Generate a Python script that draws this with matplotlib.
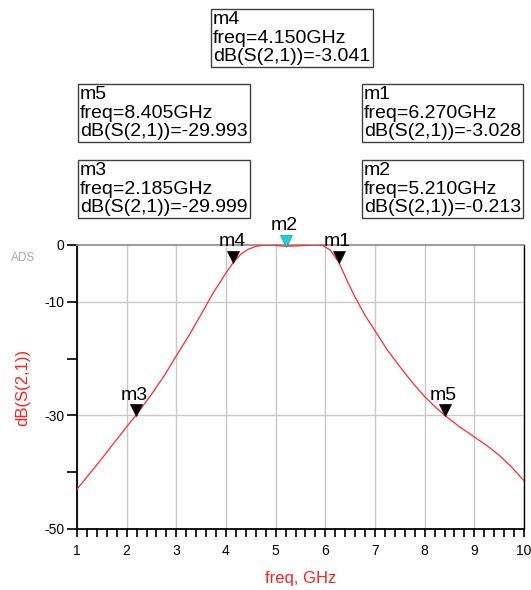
import matplotlib
matplotlib.use("Agg")
import matplotlib.pyplot as plt
import matplotlib.transforms as mtransforms
from matplotlib.ticker import MultipleLocator, FixedLocator

plt.rcParams['font.family'] = ['Liberation Sans', 'DejaVu Sans']

# ---- data ----
freq = [1.0, 1.25, 1.5, 1.75, 2.0, 2.185, 2.5, 2.75, 3.0, 3.25, 3.5, 3.75,
        3.9, 4.0, 4.15, 4.3, 4.45, 4.6, 4.75, 4.9, 5.05, 5.21, 5.4, 5.6, 5.8,
        5.95, 6.1, 6.27, 6.45, 6.6, 6.8, 7.0, 7.25, 7.5, 7.75, 8.0, 8.2,
        8.405, 8.7, 9.0, 9.25, 9.5, 9.75, 10.0]
s21_db = [-43.0, -40.3, -37.6, -34.8, -32.0, -30.0, -26.3, -23.1, -19.5, -16.0,
          -12.2, -8.3, -6.3, -4.9, -3.04, -1.6, -0.75, -0.25, -0.03, -0.02, -0.12,
          -0.213, -0.18, -0.08, -0.01, -0.1, -0.9, -3.03, -6.5, -9.2, -12.4,
          -15.1, -18.5, -21.4, -24.2, -26.7, -28.4, -29.99, -32.0, -33.8,
          -35.3, -37.0, -39.1, -41.5]

marker_names = ['m1', 'm2', 'm3', 'm4', 'm5']
marker_freq = [6.270, 5.210, 2.185, 4.150, 8.405]
marker_db = [-3.028, -0.213, -29.999, -3.041, -29.993]
marker_colors = ['black', '#20d0d8', 'black', 'black', 'black']

x_ticks = [1, 2, 3, 4, 5, 6, 7, 8, 9, 10]
y_ticks = [0, -10, -20, -30, -40, -50]
y_labels = ['0', '-10', '', '-30', '', '-50']

W, H = 531, 590
fig = plt.figure(figsize=(W / 100, H / 100), dpi=100)
ax = fig.add_axes([77 / W, 1 - 529 / H, (524 - 77) / W, (529 - 245) / H])

ax.plot(freq, s21_db, color='#ff2a2a', lw=0.9, zorder=3)
ax.set_xlim(1, 10)
ax.set_ylim(-50, 0)

ax.xaxis.set_major_locator(FixedLocator(x_ticks))
ax.xaxis.set_minor_locator(MultipleLocator(0.2))
ax.yaxis.set_major_locator(FixedLocator(y_ticks))
ax.set_yticklabels(y_labels)
ax.set_xticklabels([str(t) for t in x_ticks])

for t in x_ticks:
    ax.axvline(t, color='#c8c8c8', lw=1.0, zorder=1)
for t in [-10, -30]:
    ax.axhline(t, color='#c8c8c8', lw=1.0, zorder=1)

ax.tick_params(axis='x', which='both', direction='out', length=6, width=1.2,
               labelsize=10, pad=5, colors='black')
ax.tick_params(axis='y', which='major', direction='out', length=7, width=1.2,
               labelsize=10, pad=2, colors='black')

for s in ['left', 'bottom', 'right']:
    ax.spines[s].set_color('black')
    ax.spines[s].set_linewidth(1.3)
ax.spines['right'].set_linewidth(1.0)
ax.spines['top'].set_color('#8a8a8a')
ax.spines['top'].set_linewidth(1.2)

ax.set_xlabel('freq, GHz', color='#ff2020', fontsize=12, labelpad=9)
ax.set_ylabel('dB(S(2,1))', color='#ff2020', fontsize=12, labelpad=10)
fig.text(23 / W, 1 - 258 / H, 'ADS', color='#a8a8a8', fontsize=8.5,
         ha='center', va='center')

# ---- markers ----
ms = 8
for name, fx, fy, c in zip(marker_names, marker_freq, marker_db, marker_colors):
    tr = mtransforms.offset_copy(ax.transData, fig=fig, x=0, y=ms / 2, units='points')
    ax.plot([fx], [fy], marker='v', ms=ms, color=c, mec='black' if c == 'black' else '#10a0a8',
            mew=0.5, transform=tr, clip_on=False, zorder=5)
    ax.annotate(name, xy=(fx, fy), xytext=(-1, ms + 0.5), textcoords='offset points',
                ha='center', va='bottom', fontsize=14, color='black',
                annotation_clip=False, zorder=6)

# ---- marker readout boxes (top-left pixel positions) ----
box_pos = {'m4': (211, 9), 'm5': (78, 84), 'm1': (362, 84),
           'm3': (78, 160), 'm2': (362, 160)}
for name, fx, fy in zip(marker_names, marker_freq, marker_db):
    bx, by = box_pos[name]
    txt = f"{name}\nfreq={fx:.3f}GHz\ndB(S(2,1))={fy:.3f}"
    fig.text((bx + 2) / W, 1 - (by + 2) / H, txt, ha='left', va='top',
             fontsize=14, linespacing=1.12, color='black',
             bbox=dict(boxstyle='square,pad=0.12', fc='white', ec='#404040', lw=1.0))

fig.savefig('out.png', dpi=100)
